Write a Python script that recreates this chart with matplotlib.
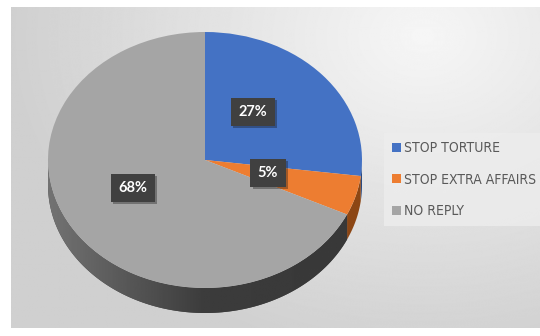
import numpy as np
import matplotlib.pyplot as plt
import matplotlib.patheffects as pe
from matplotlib.patches import Polygon

# survey answers
categories = ['STOP TORTURE', 'STOP EXTRA AFFAIRS', 'NO REPLY']
shares = [27, 5, 68]
top_colors = ['#4472C4', '#ED7D31', '#A5A5A5']
side_colors = ['#2b4a80', '#8c4614', '#474747']

W, H = 540, 336
cx, cy, rx, ry = 205, 160, 157, 128   # ellipse of the top face, pixels
depth = 25                             # thickness of the disc, pixels

fig = plt.figure(figsize=(W / 100, H / 100), dpi=100)
fig.patch.set_facecolor('white')

# background panel with soft light spot
bg = fig.add_axes([0, 0, 1, 1])
bg.set_xlim(0, W)
bg.set_ylim(H, 0)
bg.axis('off')
yy, xx = np.mgrid[0:H, 0:W]
dist = np.hypot((xx - 420) / 1.0, (yy - 30) / 0.8)
shade = 0.965 - 0.15 * np.clip(dist / 420, 0, 1)
bg.imshow(shade, cmap='gray', vmin=0, vmax=1, extent=(11, W, 328, 7),
          aspect='auto', interpolation='bilinear', zorder=0)

# pie drawn in units of the ellipse radii
ax = fig.add_axes([0, 0, 1, 1], zorder=1)
ax.patch.set_visible(False)
wedges, _ = ax.pie(shares, colors=top_colors, startangle=90, counterclock=False,
                   radius=1, center=(0, 0), wedgeprops=dict(linewidth=0))
ax.set_aspect('auto')
ax.set_xlim(-cx / rx, (W - cx) / rx)
ax.set_ylim((cy - H) / ry, cy / ry)
ax.axis('off')

# front side of the disc, one band per slice
d = depth / ry
edges = 90 - 360 * np.concatenate([[0], np.cumsum(shares)]) / sum(shares)
for i in range(len(shares)):
    lo, hi = max(edges[i + 1], -180), min(edges[i], 0)
    if lo >= hi:
        continue
    t = np.radians(np.linspace(lo, hi, 120))
    top = np.column_stack([np.cos(t), np.sin(t)])
    bot = np.column_stack([np.cos(t), np.sin(t) - d])[::-1]
    poly = Polygon(np.vstack([top, bot]), closed=True, fc=side_colors[i],
                   ec='none', zorder=0)
    ax.add_patch(poly)
    if i == len(shares) - 1:
        # lighter on the left, darker towards the front right
        gx = np.linspace(0, 1, 200)[None, :]
        grad = 0.45 - 0.2 * np.clip(gx / 0.5, 0, 1) - 0.03 * gx
        im = ax.imshow(np.repeat(grad, 2, axis=0), cmap='gray', vmin=0, vmax=1,
                       extent=(-1, 1, -1 - d, 0), aspect='auto', zorder=0.5)
        im.set_clip_path(poly)
for w in wedges:
    w.set_zorder(2)

# value labels in dark boxes with a drop shadow
label_xy = [(253, 112), (268, 173), (133, 188)]
for (x, y), v in zip(label_xy, shares):
    t = ax.text(x, y, f'{v}%', ha='center', va='center', fontsize=10.5,
                fontweight='bold', color='white', zorder=6, family='Lato',
                transform=bg.transData,
                bbox=dict(boxstyle='square,pad=0.5', fc='#404040', ec='none'))
    t.get_bbox_patch().set_path_effects(
        [pe.SimplePatchShadow(offset=(1.5, -1.5), alpha=0.35), pe.Normal()])

leg = fig.legend(wedges, categories, loc='upper left',
                 bbox_to_anchor=(384 / W, 1 - 133 / H), borderaxespad=0,
                 frameon=True, facecolor='#ededed', edgecolor='none',
                 fancybox=False, framealpha=0.8, handlelength=0.6,
                 handleheight=0.6, handletextpad=0.25, labelspacing=1.25,
                 borderpad=0.6,
                 prop={'family': 'DejaVu Sans', 'stretch': 'condensed', 'size': 10})
for txt in leg.get_texts():
    txt.set_color('#595959')

fig.savefig('out.png', dpi=100)
